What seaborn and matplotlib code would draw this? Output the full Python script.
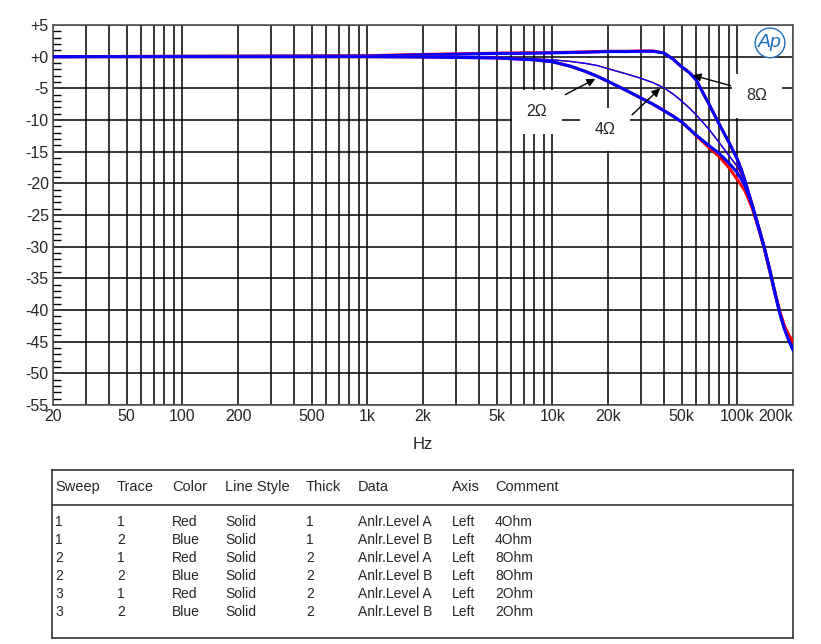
import matplotlib
matplotlib.use("Agg")
import matplotlib.pyplot as plt
import matplotlib.ticker as mticker
import seaborn as sns
import pandas as pd

# frequency points (Hz)
freq_hz = [20, 1000, 2000, 5000, 8000, 10000, 12500, 15000, 17500, 20000, 25000, 30000,
           35000, 40000, 45000, 50000, 55000, 60000, 70000, 80000, 90000, 100000, 105000,
           110000, 120000, 130000, 140000, 150000, 160000, 170000, 180000, 190000, 200000]

# levels (dB) per sweep / trace
lvl_4ohm_a = [0, 0, -0.05, -0.2, -0.35, -0.5, -0.75, -1.05, -1.4, -1.9, -2.7, -3.4,
              -4.1, -4.9, -5.9, -7.0, -8.1, -9.2, -11.4, -13.6, -15.6, -17.4, -18.6,
              -19.9, -23.2, -26.7, -30.2, -33.8, -37.4, -40.5, -42.7, -44.1, -45.1]
lvl_4ohm_b = [0, 0, -0.05, -0.2, -0.35, -0.5, -0.75, -1.05, -1.4, -1.9, -2.7, -3.4,
              -4.1, -4.9, -5.9, -7.0, -8.1, -9.2, -11.4, -13.6, -15.6, -17.3, -18.4,
              -19.8, -23.0, -26.6, -30.1, -33.8, -37.4, -40.6, -43.0, -44.8, -46.3]
lvl_8ohm_a = [0, 0.15, 0.35, 0.55, 0.6, 0.65, 0.7, 0.75, 0.8, 0.85, 0.85, 0.9,
              0.9, 0.6, -0.4, -1.6, -2.5, -3.7, -7.4, -10.7, -13.5, -16.2, -17.8,
              -19.6, -23.3, -26.8, -30.2, -33.8, -37.3, -40.4, -42.6, -44.0, -45.0]
lvl_8ohm_b = [0, 0.1, 0.3, 0.5, 0.55, 0.6, 0.65, 0.7, 0.75, 0.8, 0.8, 0.85,
              0.85, 0.6, -0.4, -1.6, -2.5, -3.7, -7.4, -10.7, -13.5, -16.2, -17.8,
              -19.6, -23.3, -26.8, -30.2, -33.8, -37.4, -40.6, -43.0, -44.8, -46.3]
lvl_2ohm_a = [0, 0, -0.05, -0.2, -0.5, -0.8, -1.5, -2.3, -3.1, -3.9, -5.3, -6.5,
              -7.5, -8.5, -9.4, -10.3, -11.4, -12.5, -14.3, -15.8, -17.5, -19.4, -20.3,
              -21.2, -23.8, -27.0, -30.3, -33.9, -37.4, -40.4, -42.6, -44.0, -45.0]
lvl_2ohm_b = [0, 0, -0.05, -0.2, -0.5, -0.8, -1.5, -2.3, -3.1, -3.9, -5.3, -6.5,
              -7.5, -8.5, -9.4, -10.3, -11.4, -12.4, -14.0, -15.3, -16.8, -18.3, -19.3,
              -20.4, -23.4, -26.9, -30.2, -33.8, -37.4, -40.6, -43.0, -44.8, -46.3]

# table contents
tbl_header = ["Sweep", "Trace", "Color", "Line Style", "Thick", "Data", "Axis", "Comment"]
tbl_sweep = ["1", "1", "2", "2", "3", "3"]
tbl_trace = ["1", "2", "1", "2", "1", "2"]
tbl_color = ["Red", "Blue", "Red", "Blue", "Red", "Blue"]
tbl_style = ["Solid"] * 6
tbl_thick = ["1", "1", "2", "2", "2", "2"]
tbl_data = ["Anlr.Level A", "Anlr.Level B"] * 3
tbl_axis = ["Left"] * 6
tbl_comment = ["4Ohm", "4Ohm", "8Ohm", "8Ohm", "2Ohm", "2Ohm"]

xtick_vals = [20, 50, 100, 200, 500, 1000, 2000, 5000, 10000, 20000, 50000, 100000, 200000]
xtick_lbls = ["20", "50", "100", "200", "500", "1k", "2k", "5k", "10k", "20k", "50k", "100k", "200k"]

sns.set_style("white")
plt.rcParams["font.family"] = ["Liberation Sans", "DejaVu Sans"]

fig = plt.figure(figsize=(8.21, 6.44), dpi=100)
ax = fig.add_axes([53 / 821, 1 - 405 / 644, 740 / 821, 380 / 644])

traces = [
    (lvl_4ohm_a, "#ff0000", 1.0),
    (lvl_4ohm_b, "#0000ff", 1.0),
    (lvl_8ohm_a, "#ff0000", 2.2),
    (lvl_8ohm_b, "#0000ff", 2.2),
    (lvl_2ohm_a, "#ff0000", 2.2),
    (lvl_2ohm_b, "#0000ff", 2.2),
]
for lvl, col, lw in traces:
    df = pd.DataFrame({"f": freq_hz, "dB": lvl})
    sns.lineplot(data=df, x="f", y="dB", color=col, linewidth=lw, ax=ax, zorder=3)

ax.set_xscale("log")
ax.set_xlim(20, 200000)
ax.set_ylim(-55, 5)

# grid: every decade subdivision + every 5 dB
ax.xaxis.set_major_locator(mticker.FixedLocator(xtick_vals))
ax.xaxis.set_minor_locator(mticker.LogLocator(base=10, subs=range(1, 10), numticks=50))
ax.set_xticklabels(xtick_lbls)
ax.xaxis.set_minor_formatter(mticker.NullFormatter())
ax.grid(True, which="both", axis="x", color="black", linewidth=1.1)
ax.yaxis.set_major_locator(mticker.MultipleLocator(5))
ax.yaxis.set_minor_locator(mticker.MultipleLocator(1))
ax.grid(True, which="major", axis="y", color="black", linewidth=1.1)
ylbls = [("+%d" % v) if v >= 0 else "%d" % v for v in range(-55, 6, 5)]
ax.set_yticks(range(-55, 6, 5))
ax.set_yticklabels(ylbls)
ax.tick_params(axis="y", which="minor", direction="in", length=6, width=1, color="black", left=True)
ax.tick_params(axis="both", which="major", length=0, labelsize=11.5, pad=3)
ax.tick_params(axis="x", which="minor", length=0)
for lab in ax.get_xticklabels():
    if lab.get_text() == "200k":
        lab.set_horizontalalignment("right")
ax.set_xlabel("Hz", fontsize=12, labelpad=9)
ax.set_ylabel("")
for s in ax.spines.values():
    s.set_color("#555555")
    s.set_linewidth(1.2)

# annotations
box = dict(boxstyle="square,pad=0.9", fc="white", ec="none")
arr = dict(arrowstyle="-|>", color="black", lw=1, mutation_scale=12)
ax.annotate("", xy=(17600, -3.3), xytext=(11400, -6.2), arrowprops=arr, zorder=6)
ax.text(8260, -8.7, "2Ω", fontsize=11.5, ha="center", va="center", bbox=box, zorder=5)
ax.annotate("", xy=(39200, -4.7), xytext=(26300, -9.5), arrowprops=arr, zorder=6)
ax.text(19300, -11.5, "4Ω", fontsize=11.5, ha="center", va="center", bbox=box, zorder=5)
ax.annotate("", xy=(55500, -2.8), xytext=(95000, -4.7), arrowprops=arr, zorder=6)
ax.text(128000, -6.2, "8Ω", fontsize=11.5, ha="center", va="center", bbox=box, zorder=5)
ax.text(0.969, 0.953, "Ap", transform=ax.transAxes, fontsize=14, color="#1f6fc0",
        style="italic", ha="center", va="center", zorder=5,
        bbox=dict(boxstyle="circle,pad=0.15", fc="white", ec="#1f6fc0", lw=1))

# table below the chart
tab = fig.add_axes([52 / 821, 1 - 638 / 644, 741 / 821, 168 / 644])
tab.set_xlim(0, 741)
tab.set_ylim(168, 0)
tab.set_xticks([])
tab.set_yticks([])
for s in tab.spines.values():
    s.set_color("#333333")
    s.set_linewidth(1.2)
tab.axhline(35, color="#333333", linewidth=1.2)
col_x = [3, 65, 120, 173, 254, 306, 400, 443]
for cx, h in zip(col_x, tbl_header):
    tab.text(cx, 17, h, fontsize=10.5, va="center", ha="left")
cols = [tbl_sweep, tbl_trace, tbl_color, tbl_style, tbl_thick, tbl_data, tbl_axis, tbl_comment]
for r in range(6):
    y = 52 + r * 18
    for cx, c in zip(col_x, cols):
        tab.text(cx, y, c[r], fontsize=10, va="center", ha="left")

fig.savefig("out.png", dpi=100, facecolor="white")
